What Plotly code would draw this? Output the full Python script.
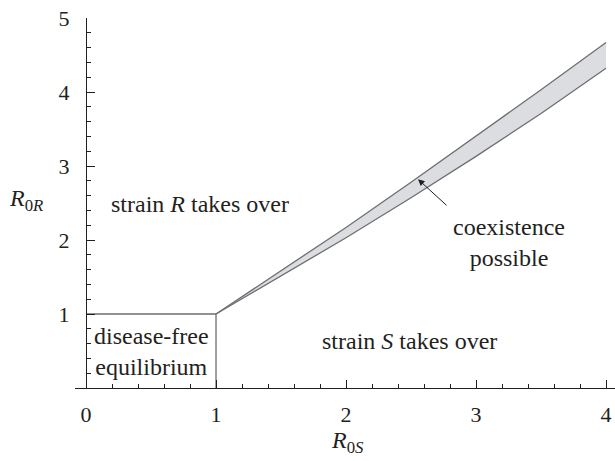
import plotly.graph_objects as go

# Data
band_x = [1.0, 1.5, 2.0, 2.5, 3.0, 3.5, 4.0]
band_upper = [1.0, 1.59, 2.17, 2.78, 3.40, 4.03, 4.67]
band_lower = [1.0, 1.51, 2.03, 2.57, 3.13, 3.71, 4.32]
box_x = [0, 1, 1]
box_y = [1, 1, 0]
x_ticks = [0, 1, 2, 3, 4]
y_ticks = [1, 2, 3, 4, 5]

FONT = "Liberation Serif"
TXT = "#231f20"
LINE = "#6d6e71"

fig = go.Figure()
fig.add_trace(go.Scatter(x=band_x, y=band_lower, mode="lines",
                         line=dict(color=LINE, width=1.3), hoverinfo="skip"))
fig.add_trace(go.Scatter(x=band_x, y=band_upper, mode="lines", fill="tonexty",
                         fillcolor="#dcdde0",
                         line=dict(color=LINE, width=1.3), hoverinfo="skip"))
fig.add_trace(go.Scatter(x=box_x, y=box_y, mode="lines",
                         line=dict(color=LINE, width=1.3), hoverinfo="skip"))

ann_font = dict(family=FONT, size=24, color=TXT)
annotations = [
    dict(x=0.877, y=2.48, text="strain <i>R</i> takes over", showarrow=False, font=ann_font),
    dict(x=2.49, y=0.63, text="strain <i>S</i> takes over", showarrow=False, font=ann_font),
    dict(x=0.5, y=0.5, text="disease-free<br>equilibrium", showarrow=False, font=ann_font),
    dict(x=3.25, y=1.97, text="coexistence<br>possible", showarrow=False, font=ann_font),
    dict(x=2.554, y=2.82, ax=2.785, ay=2.45, axref="x", ayref="y", text="",
         showarrow=True, arrowhead=2, arrowsize=1.3, arrowwidth=1, arrowcolor=TXT),
    dict(xref="paper", yref="paper", x=-0.0907, y=0.508,
         text="<i>R</i><sub>0<i>R</i></sub>", showarrow=False, font=ann_font),
    dict(xref="paper", yref="paper", x=0.504, y=-0.146,
         text="<i>R</i><sub>0<i>S</i></sub>", showarrow=False, font=ann_font),
]
for a in annotations:
    if "xref" not in a:
        a["xref"] = "x"
        a["yref"] = "y"
    if a.get("text"):
        a["xanchor"] = "center"
        a["yanchor"] = "middle"

fig.update_layout(
    width=615, height=461,
    margin=dict(l=75, r=0, t=18, b=73),
    paper_bgcolor="white", plot_bgcolor="white",
    showlegend=False,
    annotations=annotations,
    xaxis=dict(range=[-0.0846, 4.069], showgrid=False, zeroline=False,
               showline=True, linecolor=TXT, linewidth=1.2,
               tickvals=x_ticks, ticks="inside", ticklen=8, tickwidth=1, tickcolor=TXT,
               minor=dict(dtick=0.2, tick0=0, ticks="inside", ticklen=4, tickcolor=TXT, tickwidth=1),
               tickfont=dict(family=FONT, size=22, color=TXT), ticklabelstandoff=6),
    yaxis=dict(range=[0, 5], showgrid=False, zeroline=False,
               anchor="free", position=(86 - 75) / 540,
               showline=True, linecolor=TXT, linewidth=1.2,
               tickvals=y_ticks, ticks="inside", ticklen=8, tickwidth=1, tickcolor=TXT,
               minor=dict(dtick=0.2, tick0=0, ticks="inside", ticklen=4, tickcolor=TXT, tickwidth=1),
               tickfont=dict(family=FONT, size=22, color=TXT), ticklabelstandoff=12),
)

fig.write_html("out.html", config={"displayModeBar": False},
               post_script="document.body.style.margin='0';document.body.style.overflow='hidden';")
